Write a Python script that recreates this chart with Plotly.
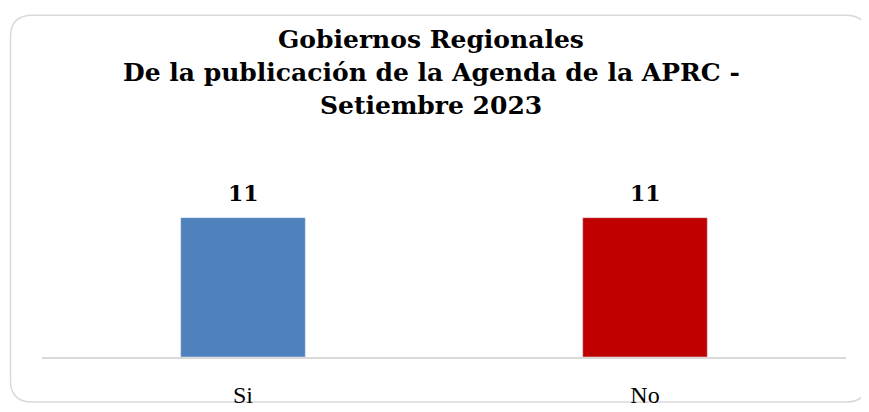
import plotly.graph_objects as go

categories = ["Si", "No"]
values = [11, 11]
bar_colors = ["#4f81bd", "#c00000"]
title_lines = ["Gobiernos Regionales",
               "De la publicación de la Agenda de la APRC -",
               "Setiembre 2023"]

# page shows the figure offset by the 8px body margin; work in reference px
OFF = 8
W, H = 869, 412
L = 42 - OFF
R = W - (846 - OFF)
B = H - (363 - OFF)
T = 167 - OFF
pw, ph = W - L - R, H - T - B

def px(x):
    return (x - OFF - L) / pw

def py(y):
    return (H - B - (y - OFF)) / ph

fig = go.Figure(go.Bar(
    x=categories, y=values, marker_color=bar_colors, width=0.31,
    hoverinfo="skip",
))

for c, v in zip(categories, values):
    fig.add_annotation(x=c, y=v, text=f"<b>{v}</b>", showarrow=False,
                       yanchor="middle", yshift=25,
                       font=dict(family="DejaVu Serif", size=22, color="#000000"))

title_y = [35, 69.5, 103.5]
for line, yy in zip(title_lines, title_y):
    fig.add_annotation(x=px(431), y=py(yy), xref="paper", yref="paper",
                       text=f"<b>{line}</b>", showarrow=False,
                       xanchor="center", yanchor="middle",
                       font=dict(family="DejaVu Serif", size=25, color="#000000"))

# rounded chart border
x0, y0, x1, y1, r = 10.5, 10.5, 867.5, 409.5, 22
path = (f"M {px(x0+r)},{py(y0)} L {px(x1-r)},{py(y0)} "
        f"Q {px(x1)},{py(y0)} {px(x1)},{py(y0+r)} "
        f"L {px(x1)},{py(y1-r)} Q {px(x1)},{py(y1)} {px(x1-r)},{py(y1)} "
        f"L {px(x0+r)},{py(y1)} Q {px(x0)},{py(y1)} {px(x0)},{py(y1-r)} "
        f"L {px(x0)},{py(y0+r)} Q {px(x0)},{py(y0)} {px(x0+r)},{py(y0)} Z")

fig.update_layout(
    width=W, height=H,
    margin=dict(l=L, r=R, t=T, b=B),
    paper_bgcolor="white", plot_bgcolor="white",
    showlegend=False,
    xaxis=dict(showline=True, linecolor="#d9d9d9", linewidth=1.5,
               ticks="", showgrid=False, ticklabelstandoff=15,
               tickfont=dict(family="Liberation Serif", size=24, color="#000000")),
    yaxis=dict(range=[0, 15], visible=False, showgrid=False),
    shapes=[dict(type="path", path=path, xref="paper", yref="paper",
                 line=dict(color="#d9d9d9", width=1.5), layer="below")],
)

fig.write_html("out.html")
